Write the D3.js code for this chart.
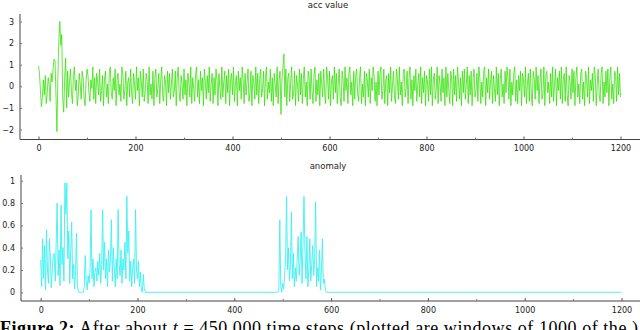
<!DOCTYPE html>
<html>
<head>
<meta charset="utf-8">
<script src="https://cdn.jsdelivr.net/npm/d3@7"></script>
<style>
  body { margin: 0; background: #fff; }
  svg { display: block; }
  .tick text { font-family: "DejaVu Sans", sans-serif; font-size: 8px; fill: #222; }
</style>
</head>
<body>
<div id="container"></div>
<script>
// acc value, sampled every 2 steps (t = 0, 2, 4, ... 1200)
const accStep = 2;
const accValues = [
  0.95, 0.6, -0.2, -0.94, -0.5, 0.3, -0.4, 0.5, -0.8, -0.3, 0.4, 0.1, -0.7, 0.6, 0.2, 0.8, 1.26, 1.2, -0.4, -2.1,
  0.5, 2.2, 3.0, 1.9, 2.4, -0.6, -1.2, 0.4, 1.3, -1.0, 0.7, -0.5, 0.2, 0.8, -0.3, -0.8, 0.5, 0.9, -0.2, 0.3,
  -0.9, -0.4, 0.6, 0.1, -0.6, 0.7, 0.4, -0.5, -0.9, 0.2, 0.8, 0.5, -0.3, -0.7, 0.3, -0.1, 0.9, -0.6, 0.4, -0.8,
  0.6, 0.2, -0.4, 0.8, -0.7, -0.2, 0.5, -0.9, 0.3, 0.7, -0.5, 0.1, -0.8, 0.6, 0.9, -0.3, -0.6, 0.4, -0.2, 0.8,
  -0.9, 0.3, 0.6, -0.4, 0.1, -0.7, 0.9, 0.5, -0.6, -0.2, 0.7, -0.9, 0.2, 0.4, -0.5, 0.8, -0.3, -0.8, 0.6, 0.1,
  -0.6, 0.9, -0.2, 0.4, -0.9, 0.7, 0.2, -0.5, 0.8, -0.7, -0.3, 0.6, 0.3, -0.8, 0.9, -0.4, 0.1, -0.6, 0.7, -0.9,
  0.4, 0.8, -0.5, -0.1, 0.6, -0.8, 0.3, 0.9, -0.4, -0.7, 0.5, 0.2, -0.9, 0.7, -0.3, 0.6, -0.6, 0.1, 0.8, -0.5,
  -0.2, 0.7, -0.9, 0.4, 0.9, -0.3, -0.7, 0.5, 0.1, -0.6, 0.8, -0.4, 0.3, -0.9, 0.6, 0.2, -0.5, 0.9, -0.8, 0.4,
  -0.1, -0.7, 0.6, 0.9, -0.5, 0.3, -0.8, 0.7, -0.2, 0.4, -0.9, 0.8, 0.2, -0.6, 0.5, -0.3, 0.9, -0.7, 0.1, 0.6,
  -0.8, 0.4, -0.4, 0.8, 0.3, -0.9, 0.6, -0.1, -0.6, 0.9, -0.5, 0.2, 0.7, -0.8, 0.5, -0.3, 0.8, -0.9, 0.3, 0.6,
  -0.4, 0.9, -0.7, 0.1, 0.5, -0.9, 0.7, -0.2, 0.4, -0.6, 0.9, 0.3, -0.8, 0.6, -0.4, 0.2, 0.8, -0.7, -0.3, 0.7,
  -0.9, 0.5, 0.2, -0.6, 0.9, -0.4, 0.6, -0.8, 0.3, 0.8, -0.5, -0.1, 0.7, -0.9, 0.4, 0.9, -0.6, 0.2, -0.3, 0.8,
  -0.7, 0.4, -0.9, 0.6, 0.1, -0.5, 0.9, -0.8, 0.3, 0.7, -1.3, 0.3, 0.9, 1.5, -0.5, 0.8, -0.9, 0.4, 0.6, -0.7,
  0.2, 0.9, -0.6, -0.3, 0.7, -0.9, 0.5, 0.1, -0.7, 0.8, -0.4, 0.6, -0.8, 0.3, 0.9, -0.5, 0.2, -0.9, 0.7, 0.4,
  -0.6, 0.8, -0.2, -0.8, 0.5, 0.9, -0.7, 0.3, -0.4, 0.6, -0.9, 0.7, 0.1, -0.5, 0.8, -0.3, -0.8, 0.9, 0.4, -0.6,
  0.7, -0.9, 0.2, 0.5, -0.6, 0.9, -0.3, 0.6, -0.8, 0.1, 0.8, -0.5, -0.9, 0.7, 0.3, -0.7, 0.9, -0.2, 0.4, -0.8,
  0.6, 0.9, -0.4, 0.2, -0.9, 0.7, -0.6, 0.5, 0.8, -0.3, -0.7, 0.4, 0.9, -0.8, 0.1, -0.5, 0.7, -0.9, 0.6, 0.3,
  -0.5, 0.8, -0.8, 0.4, -0.2, 0.9, 0.5, -0.7, 0.2, -0.9, 0.7, -0.4, 0.6, 0.9, -0.6, -0.2, 0.8, -0.8, 0.3, 0.5,
  -0.9, 0.6, -0.3, 0.9, -0.7, 0.1, 0.7, -0.5, -0.8, 0.8, 0.3, -0.6, 0.9, -0.4, 0.2, -0.9, 0.6, 0.8, -0.5, -0.1,
  0.7, -0.8, 0.4, 0.9, -0.6, 0.3, -0.9, 0.5, -0.2, 0.8, -0.7, 0.1, 0.6, -0.5, 0.9, -0.8, 0.4, -0.3, 0.7, -0.9,
  0.5, 0.2, -0.7, 0.8, -0.4, 0.9, -0.9, 0.3, 0.6, -0.6, -0.2, 0.9, -0.8, 0.5, 0.1, -0.7, 0.8, -0.3, 0.4, -0.9,
  0.9, -0.5, 0.6, -0.2, -0.8, 0.7, 0.3, -0.9, 0.8, -0.4, 0.5, -0.7, 0.9, 0.2, -0.6, 0.4, -0.9, 0.7, -0.3, 0.8,
  -0.6, 0.1, 0.9, -0.8, 0.5, -0.4, 0.7, -0.9, 0.3, 0.8, -0.5, -0.2, 0.6, -0.7, 0.9, 0.4, -0.8, 0.2, -0.5, 0.7,
  0.9, -0.9, 0.4, -0.3, 0.8, -0.6, 0.2, 0.7, -0.8, 0.5, -0.1, -0.7, 0.9, -0.4, 0.6, -0.9, 0.3, 0.8, -0.5, 0.1,
  -0.8, 0.7, -0.3, 0.9, 0.4, -0.6, 0.8, -0.9, 0.2, -0.4, 0.6, 0.9, -0.7, 0.3, -0.8, 0.5, -0.2, 0.7, -0.9, 0.6,
  0.3, -0.5, 0.9, -0.8, 0.1, 0.6, -0.7, 0.8, -0.3, -0.9, 0.7, 0.4, -0.6, 0.9, -0.2, 0.5, -0.8, 0.2, 0.8, -0.6,
  -0.4, 0.9, -0.9, 0.5, 0.7, -0.3, 0.2, -0.8, 0.6, -0.5, 0.9, -0.7, 0.1, 0.8, -0.9, 0.4, -0.2, 0.7, -0.6, 0.9,
  -0.8, 0.3, 0.6, -0.7, 0.9, -0.4, -0.9, 0.5, 0.2, -0.6, 0.8, -0.3, 0.7, -0.9, 0.4, 0.9, -0.5, 0.1, -0.8, 0.6,
  0.8, -0.6, 0.2, -0.9, 0.7, 0.4, -0.5, 0.9, -0.8, 0.3, -0.2, 0.6, -0.7, 0.9, 0.5, -0.9, 0.1, 0.8, -0.4, -0.7,
  0.6, 0.9, -0.8, 0.2, -0.5, 0.7, -0.3, 0.8, -0.9, 0.4, 0.9, -0.6, 0.1, -0.8, 0.7, 0.5, -0.7, 0.9, -0.4, 0.6,
  -0.5
];

// anomaly bursts, sampled every 2 steps; zero everywhere else
const anomalyStep = 2;
const burst1Start = 0;
const burst1 = [
  0.29, 0.05, 0.48, 0.12, 0.42, 0.02, 0.56, 0.20, 0.08, 0.48, 0.30, 0.04, 0.22, 0.33, 0.35, 0.10, 0.45, 0.80, 0.15, 0.38,
  0.06, 0.78, 0.25, 0.40, 0.10, 0.98, 0.70, 0.98, 0.30, 0.55, 0.08, 0.38, 0.63, 0.12, 0.25, 0.03, 0.18, 0.53, 0.05, 0.00,
  0.00, 0.00, 0.00, 0.00, 0.00, 0.05, 0.33, 0.10, 0.02, 0.15, 0.08, 0.20, 0.74, 0.12, 0.30, 0.05, 0.18, 0.22, 0.10, 0.28,
  0.15, 0.35, 0.08, 0.25, 0.74, 0.20, 0.45, 0.12, 0.30, 0.05, 0.38, 0.18, 0.28, 0.65, 0.10, 0.40, 0.22, 0.05, 0.30, 0.12,
  0.74, 0.25, 0.15, 0.38, 0.08, 0.30, 0.20, 0.45, 0.12, 0.86, 0.35, 0.55, 0.10, 0.28, 0.05, 0.22, 0.30, 0.08, 0.74, 0.20,
  0.12, 0.28, 0.05, 0.18, 0.02, 0.00, 0.16, 0.03, 0.00
];
const burst2Start = 490;
const burst2 = [
  0.00, 0.02, 0.65, 0.05, 0.00, 0.08, 0.03, 0.15, 0.30, 0.86, 0.20, 0.40, 0.10, 0.25, 0.72, 0.12, 0.35, 0.05, 0.22, 0.10,
  0.30, 0.50, 0.15, 0.28, 0.54, 0.08, 0.45, 0.86, 0.35, 0.12, 0.50, 0.05, 0.20, 0.48, 0.10, 0.25, 0.42, 0.15, 0.30, 0.81,
  0.05, 0.22, 0.10, 0.38, 0.02, 0.18, 0.48, 0.08, 0.12, 0.03, 0.00, 0.00
];
const anomalyEnd = 1200;

const xTicks = [0, 200, 400, 600, 800, 1000, 1200];
const xMinorTicks = [100, 300, 500, 700, 900, 1100];
const accTicks = [-2, -1, 0, 1, 2, 3];
const anomalyTicks = [0, 0.2, 0.4, 0.6, 0.8, 1];

const w = 640;
const h = 330;

const svg = d3
  .select("#container")
  .append("svg")
  .attr("width", w)
  .attr("height", h)
  .attr("viewBox", `0 0 ${w} ${h}`);

// build one panel: title, axes and a single line
function panel(opts) {
  const g = svg.append("g");

  g.append("text")
    .attr("x", 328)
    .attr("y", opts.titleY)
    .attr("text-anchor", "middle")
    .style("font-family", "DejaVu Sans, sans-serif")
    .style("font-size", "8.5px")
    .style("fill", "#222")
    .text(opts.title);

  // axis lines run past the data range
  g.append("line")
    .attr("x1", opts.axisX).attr("x2", w)
    .attr("y1", opts.axisY).attr("y2", opts.axisY)
    .attr("stroke", "#444").attr("stroke-width", 1.2);
  g.append("line")
    .attr("x1", opts.axisX).attr("x2", opts.axisX)
    .attr("y1", opts.axisTop).attr("y2", opts.axisY)
    .attr("stroke", "#444").attr("stroke-width", 1);

  const xAxis = g.append("g")
    .attr("transform", `translate(0, ${opts.axisY})`)
    .call(d3.axisBottom(opts.x).tickValues(xTicks).tickSizeInner(-3).tickSizeOuter(0).tickPadding(6).tickFormat(d3.format("d")));
  xAxis.select(".domain").remove();
  xAxis.selectAll(".tick line").attr("stroke", "#555");

  const xMinor = g.append("g")
    .attr("transform", `translate(0, ${opts.axisY})`)
    .call(d3.axisBottom(opts.x).tickValues(xMinorTicks).tickSizeInner(-2).tickSizeOuter(0).tickFormat(""));
  xMinor.select(".domain").remove();
  xMinor.selectAll(".tick line").attr("stroke", "#777");

  const yAxis = g.append("g")
    .attr("transform", `translate(${opts.axisX}, 0)`)
    .call(d3.axisLeft(opts.y).tickValues(opts.yTicks).tickSizeInner(-2).tickSizeOuter(0).tickPadding(6).tickFormat(opts.fmt));
  yAxis.select(".domain").remove();
  yAxis.selectAll(".tick line").attr("stroke", "#777");

  g.append("path")
    .datum(opts.data)
    .attr("fill", "none")
    .attr("stroke", opts.color)
    .attr("stroke-width", opts.width)
    .attr("d", d3.line().x((d) => opts.x(d[0])).y((d) => opts.y(d[1])));
}

// acc value panel
const accData = accValues.map((v, i) => [i * accStep, v]);
panel({
  title: "acc value",
  titleY: 8,
  axisX: 20,
  axisY: 139.5,
  axisTop: 14,
  x: d3.scaleLinear().domain([0, 1200]).range([38.5, 620.5]),
  y: d3.scaleLinear().domain([-2, 3]).range([129.5, 21.5]),
  yTicks: accTicks,
  fmt: d3.format("d"),
  data: accData,
  color: "#2fe000",
  width: 0.75,
});

// anomaly panel
const anomalyData = [
  ...burst1.map((v, i) => [burst1Start + i * anomalyStep, v]),
  ...burst2.map((v, i) => [burst2Start + i * anomalyStep, v]),
  [anomalyEnd, 0],
];
panel({
  title: "anomaly",
  titleY: 169,
  axisX: 21,
  axisY: 301,
  axisTop: 175,
  x: d3.scaleLinear().domain([0, 1200]).range([40.7, 621.5]),
  y: d3.scaleLinear().domain([0, 1]).range([292.3, 180.7]),
  yTicks: anomalyTicks,
  fmt: (d) => (d === 0 || d === 1 ? d : d3.format(".1f")(d)),
  data: anomalyData,
  color: "#3cf0f2",
  width: 0.9,
});

// caption, cut off by the bottom edge as in the source page
const caption = svg.append("text")
  .attr("x", 0)
  .attr("y", 334)
  .attr("textLength", 638)
  .attr("lengthAdjust", "spacing")
  .style("font-family", "Liberation Serif, serif")
  .style("font-size", "18px")
  .style("fill", "#000");
caption.append("tspan").style("font-weight", "bold").text("Figure 2:");
caption.append("tspan").text("  After about ");
caption.append("tspan").style("font-style", "italic").text("t");
caption.append("tspan").text(" = 450,000 time steps (plotted are windows of 1000 of the )");
</script>
</body>
</html>
